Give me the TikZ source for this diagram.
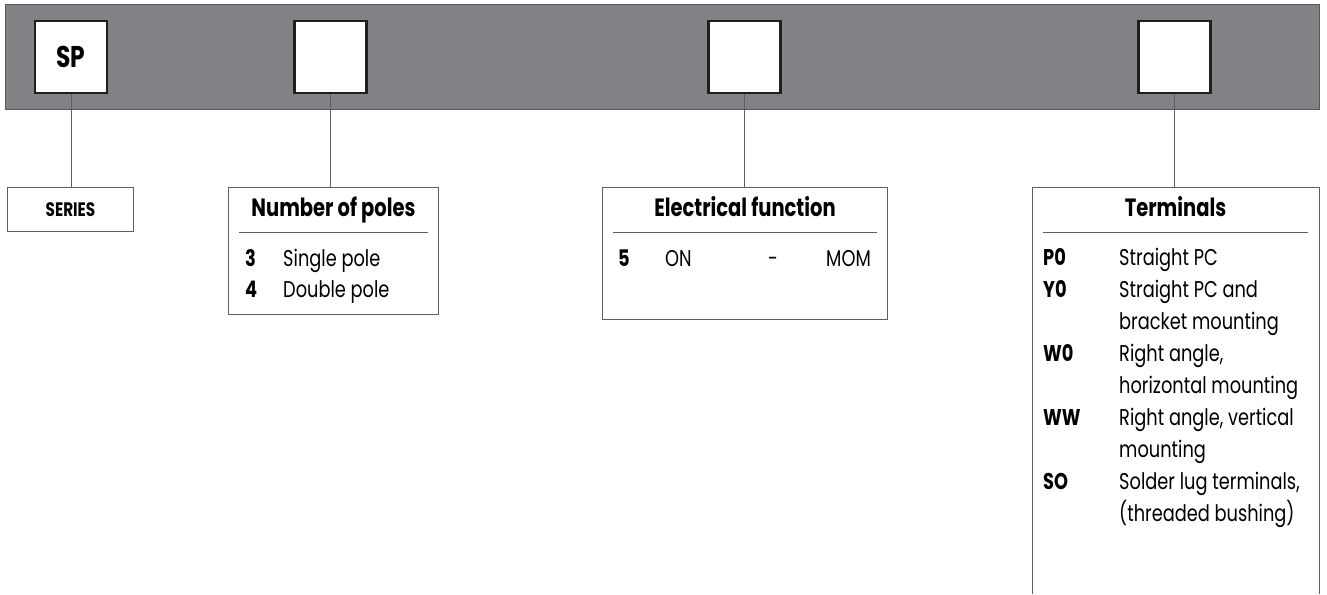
\documentclass[tikz,border=0pt]{standalone}
\usepackage{fontspec}
\setmainfont{Poppins}[FakeStretch=0.78]
\definecolor{bargray}{RGB}{129,130,134}
\definecolor{linegray}{RGB}{95,95,97}
\tikzset{
  codebox/.style={draw=black!88,line width=2.6pt,fill=white,minimum width=72pt,minimum height=72pt,inner sep=0pt},
  panel/.style={draw=linegray,line width=1pt,inner sep=0pt},
  lead/.style={draw=linegray,line width=1pt},
  rule/.style={draw=linegray,line width=0.9pt},
  title/.style={font=\bfseries\fontsize{25}{25}\selectfont,anchor=base,inner sep=0pt},
  item/.style={font=\fontsize{22.8}{22.8}\selectfont,anchor=base west,inner sep=0pt},
  code/.style={font=\bfseries\fontsize{22.8}{22.8}\selectfont,anchor=base west,inner sep=0pt}
}
\begin{document}
\begin{tikzpicture}[x=1pt,y=-1pt]
\useasboundingbox (0,0) rectangle (1327,594);
% grey band with the four code fields
\draw[fill=bargray,draw=black!65,line width=1pt] (5,5) rectangle (1319,109);
\node[codebox,font=\bfseries\fontsize{30}{30}\selectfont] (sp) at (71,57) {SP};
\node[codebox] (poles) at (330.5,57) {};
\node[codebox] (func) at (744.5,57) {};
\node[codebox] (term) at (1174.5,57) {};
% series
\node[panel,minimum width=126pt,minimum height=44pt,font=\bfseries\fontsize{19.5}{19.5}\selectfont] (series) at (70.5,209.5) {SERIES};
\draw[lead] (sp.south) -- (sp.south |- series.north);
% number of poles
\node[panel,minimum width=210pt,minimum height=127pt] (polesbox) at (333.5,251) {};
\draw[lead] (poles.south) -- (poles.south |- polesbox.north);
\node[title] (polestitle) at (333.5,216.5) {Number of poles};
\draw[rule] (239,232) -- (428,232);
\node[code] (p3) at (245,266.5) {3};
\node[item] (p3t) at (283,266.5) {Single pole};
\node[code] (p4) at (245,297.5) {4};
\node[item] (p4t) at (283,297.5) {Double pole};
% electrical function
\node[panel,minimum width=285pt,minimum height=132pt] (funcbox) at (745,253.5) {};
\draw[lead] (func.south) -- (func.south |- funcbox.north);
\node[title] (functitle) at (745,216.5) {Electrical function};
\draw[rule] (613,232) -- (877,232);
\node[code] (f5) at (618,266.5) {5};
\node[item] (fon) at (665,266.5) {ON};
\node[item] (fdash) at (768,266.5) {-};
\node[item,anchor=base east] (fmom) at (871,266.5) {MOM};
% terminals
\draw[panel] (1032,594) -- (1032,187) -- (1319,187) -- (1319,594);
\coordinate (termtop) at (1174.5,187);
\draw[lead] (term.south) -- (termtop);
\node[title] (termtitle) at (1175.5,216.5) {Terminals};
\draw[rule] (1043,232) -- (1308,232);
\node[code] (tp0) at (1043,265.5) {P0};
\node[item] (tp0t) at (1119,265.5) {Straight PC};
\node[code] (ty0) at (1043,297.5) {Y0};
\node[item] (ty0t) at (1119,297.5) {Straight PC and};
\node[item] (ty0u) at (1119,329.5) {bracket mounting};
\node[code] (tw0) at (1043,361.5) {W0};
\node[item] (tw0t) at (1119,361.5) {Right angle,};
\node[item] (tw0u) at (1119,393.5) {horizontal mounting};
\node[code] (tww) at (1043,425.5) {WW};
\node[item] (twwt) at (1119,425.5) {Right angle, vertical};
\node[item] (twwu) at (1119,457.5) {mounting};
\node[code] (tso) at (1043,489.5) {SO};
\node[item] (tsot) at (1119,489.5) {Solder lug terminals,};
\node[item] (tsou) at (1119,521.5) {(threaded bushing)};
\end{tikzpicture}
\end{document}
